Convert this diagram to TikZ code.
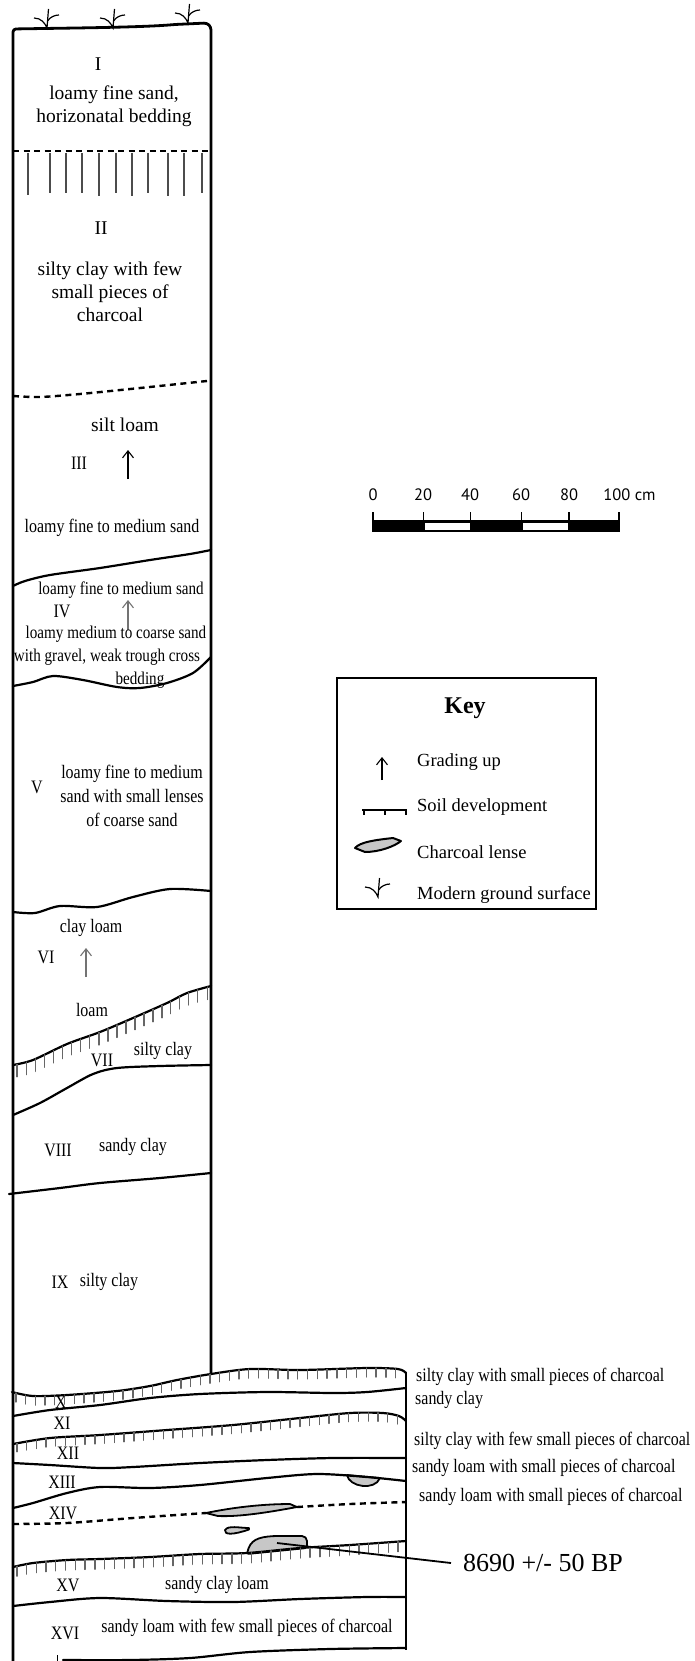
\documentclass[tikz,border=0pt]{standalone}
\usepackage{fontspec}
\setmainfont{Liberation Serif}
\newfontfamily\narrowserif[FakeStretch=0.84]{Liberation Serif}
\newfontfamily\barsans{PT Sans}
\usetikzlibrary{arrows.meta,decorations.markings}

\tikzstyle{column}=[line width=2.8pt, line join=round]
\tikzstyle{bound}=[line width=2.2pt, line cap=round]
\tikzstyle{dashbound}=[line width=2.4pt, dash pattern=on 6pt off 4.5pt]
\tikzstyle{hair}=[line width=1.35pt, black!60]
\tikzstyle{lens}=[line width=1.8pt, fill=black!22, line join=round]
\tikzstyle{grade}=[line width=1.1pt, -{Straight Barb[length=7pt,width=11pt]}]
\tikzstyle{lbl}=[font=\narrowserif\fontsize{19}{24}\selectfont, inner sep=0pt, align=center]
\tikzstyle{lblwide}=[font=\fontsize{19.5}{23}\selectfont, inner sep=0pt, align=center]
\tikzstyle{lblsmall}=[font=\narrowserif\fontsize{18}{22}\selectfont, inner sep=0pt]
\tikzstyle{side}=[lbl, anchor=west]
\tikzstyle{keytxt}=[font=\fontsize{18.5}{22}\selectfont, anchor=west, inner sep=0pt]
\tikzstyle{bartxt}=[font=\barsans\fontsize{16.5}{20}\selectfont, inner sep=0pt]
\tikzset{
  soil/.style={bound, postaction={decorate, decoration={markings,
    mark=between positions 4pt and -3pt step 9.8pt with {\pgftransformresetnontranslations
      \draw[hair] (0,0) -- (0,-#1pt);}}}},
  tuft/.pic={
    \draw[line width=1.2pt] (-13,-10) .. controls (-6,-10) and (-2,-5) .. (0,0) -- (1.5,-19);
    \draw[line width=1.2pt] (0.6,-7) .. controls (3,-11) and (8,-13) .. (12,-13);}
}

\begin{document}
\begin{tikzpicture}[x=1pt,y=-1pt]
\useasboundingbox (0,0) rectangle (695,1661);

\draw[column, rounded corners=3pt] (13,1661) -- (13,29) .. controls (70,28) and (140,27.5) .. (175,24.5) -- (207,23) -- (211,27) -- (211,1374);
\draw[column] (406,1372) -- (406,1650);
\pic at (47,28) {tuft};
\pic at (113,28) {tuft};
\pic at (188,23) {tuft};

\draw[dashbound] (13,151) -- (211,151);
\foreach \x/\e in {28/195,50/193,66/193,82/193,99/196,116/193,132/196,148/193,168/196,184/196,202/193}
  \draw[hair, black!70] (\x,153) -- (\x,\e);
\draw[dashbound] plot[smooth] coordinates {(13,396) (40,397) (80,394) (140,388) (207,381)};
\draw[bound] plot[smooth] coordinates {(13,586) (25,581) (50,575) (100,568) (150,560) (190,554) (211,550)};
\draw[bound] plot[smooth] coordinates {(13,686) (33,682) (53,676) (83,680) (117,687) (140,688) (167,683) (193,673) (211,657)};
\draw[bound] plot[smooth] coordinates {(13,912) (35,913) (60,906) (97,907) (133,897) (170,889) (211,891)};
\draw[soil=12.5] plot[smooth] coordinates {(13,1065) (33,1060) (67,1044) (100,1032) (133,1018) (167,1003) (187,993) (211,986)};
\draw[bound] plot[smooth] coordinates {(13,1115) (40,1103) (67,1088) (93,1074) (117,1068) (160,1066) (211,1065)};
\draw[bound] plot[smooth] coordinates {(9,1194) (60,1188) (100,1183) (160,1178) (211,1173)};

\draw[soil=9] plot[smooth] coordinates {(12,1392) (33,1396) (67,1395) (117,1391) (150,1386) (177,1380) (211,1374) (250,1369) (300,1370) (367,1368) (398,1369) (406,1373)};
\draw[bound] plot[smooth] coordinates {(13,1416) (50,1410) (100,1405) (150,1398) (200,1394) (267,1392) (333,1393) (367,1392) (406,1388)};
\draw[soil=8.5] plot[smooth] coordinates {(13,1444) (50,1438) (100,1435) (167,1430) (233,1425) (300,1418) (350,1413) (383,1413) (399,1416) (406,1421)};
\draw[bound] plot[smooth] coordinates {(13,1463) (50,1465) (100,1468) (133,1467) (200,1463) (267,1460) (333,1458) (406,1458)};
\draw[lens] (347,1475) .. controls (349,1487) and (375,1491) .. (380,1478) -- cycle;
\draw[bound] plot[smooth] coordinates {(13,1508) (33,1503) (67,1493) (100,1487) (150,1488) (200,1485) (267,1478) (317,1474) (367,1477) (406,1481)};
\draw[dashbound] plot[smooth] coordinates {(13,1524) (67,1523) (133,1518) (206,1513)};
\draw[dashbound] plot[smooth] coordinates {(297,1507) (350,1504) (406,1502)};
\draw[lens] (206,1513) .. controls (230,1508) and (260,1504) .. (290,1504) -- (297,1507) .. controls (270,1512) and (240,1517) .. (218,1516) -- cycle;
\draw[lens] (249,1528) .. controls (240,1528) and (228,1525) .. (225,1530) .. controls (224,1535) and (233,1535) .. (249,1529.5) -- cycle;
\draw[lens, rounded corners=2pt] (247,1554) .. controls (250,1540) and (258,1537) .. (275,1536) -- (304,1536) -- (307,1539) -- (307,1548) -- cycle;
\draw[soil=10] plot[smooth] coordinates {(13,1567) (33,1563) (67,1560) (100,1559) (150,1557) (200,1554) (247,1553) (300,1548) (350,1545) (406,1541)};
\draw[bound] plot[smooth] coordinates {(13,1606) (50,1602) (100,1598) (167,1601) (233,1602) (300,1599) (367,1597) (406,1597)};
\draw[bound] plot[smooth] coordinates {(406,1648) (330,1649) (250,1652) (190,1658) (130,1660) (63,1660)};
\draw[line width=0.8pt] (57,1655) -- (57,1661);

\node[lblwide] (nI) at (98,64) {I};
\node[lblwide] (tI) at (114,106) {loamy fine sand,\\horizonatal bedding};
\node[lblwide] (nII) at (101,228) {II};
\node[lblwide] (tII) at (110,292) {silty clay with few\\small pieces of\\charcoal};
\node[lblwide] (tIIIa) at (125,425) {silt loam};
\node[lbl] (nIII) at (79,463) {III};
\draw[grade] (128,479) -- (128,450);
\node[lbl] (tIIIb) at (112,528) {loamy fine to medium sand};
\node[lblsmall] (tIVa) at (121,590) {loamy fine to medium sand};
\node[lbl] (nIV) at (62,611) {IV};
\draw[grade, black!55] (128,630) -- (128,600);
\node[lblsmall] (tIVb) at (116,634) {loamy medium to coarse sand};
\node[lblsmall] (tIVc) at (107,657) {with gravel, weak trough cross};
\node[lblsmall] (tIVd) at (140,680) {bedding};
\node[lbl] (nV) at (37,787) {V};
\node[lbl] (tV) at (132,796) {loamy fine to medium\\sand with small lenses\\of coarse sand};
\node[lbl] (tVIa) at (91,928) {clay loam};
\node[lbl] (nVI) at (46,957) {VI};
\draw[grade, black!55] (86,977) -- (86,948);
\node[lbl] (tVIb) at (92,1010) {loam};
\node[lbl] (nVII) at (102,1060) {VII};
\node[lbl] (tVII) at (163,1051) {silty clay};
\node[lbl] (nVIII) at (58,1150) {VIII};
\node[lbl] (tVIII) at (133,1147) {sandy clay};
\node[lbl] (nIX) at (60,1282) {IX};
\node[lbl] (tIX) at (109,1282) {silty clay};
\node[lbl] (nX) at (61,1402) {X};
\node[lbl] (nXI) at (62,1423) {XI};
\node[lbl] (nXII) at (68,1453) {XII};
\node[lbl] (nXIII) at (62,1482) {XIII};
\node[lbl] (nXIV) at (63,1513) {XIV};
\node[lbl] (nXV) at (68,1585) {XV};
\node[lbl] (tXV) at (217,1585) {sandy clay loam};
\node[lbl] (nXVI) at (65,1633) {XVI};
\node[lbl] (tXVI) at (247,1628) {sandy loam with few small pieces of charcoal};

\node[side] (sX) at (416,1377) {silty clay with small pieces of charcoal};
\node[side] (sXI) at (415,1400) {sandy clay};
\node[side] (sXII) at (414,1441) {silty clay with few small pieces of charcoal};
\node[side] (sXIII) at (412,1468) {sandy loam with small pieces of charcoal};
\node[side] (sXIV) at (419,1497) {sandy loam with small pieces of charcoal};

\coordinate (sample) at (277,1543);
\node[font=\fontsize{26}{30}\selectfont, anchor=west, inner sep=0pt, outer xsep=12pt] (date) at (451,1563) {8690 +/- 50 BP};
\draw[line width=1.8pt] (sample) -- (date.west);

\foreach \x/\t [count=\i] in {373/0,423/20,470/40,521/60,569/80}
  \node[bartxt] (bar\i) at (\x,495) {\t};
\node[bartxt] (bar6) at (629.5,495) {100 cm};
\fill (372,520) rectangle (620,532);
\fill[white] (424.5,522.5) rectangle (469.5,529.8);
\fill[white] (522.5,522.5) rectangle (568,529.8);
\foreach \x in {373,423.5,470.5,521.5,569,619}
  \draw[line width=1.8pt] (\x,512) -- (\x,521);

\node[draw, line width=1.2pt, minimum width=259pt, minimum height=231pt, inner sep=0pt] (key) at (466.5,793.5) {};
\node[font=\bfseries\fontsize{24}{28}\selectfont, inner sep=0pt] (keytitle) at (465,708) {Key};
\draw[grade] (382,780) -- (382,757);
\node[keytxt] (kgrade) at (417,762) {Grading up};
\draw[line width=2.2pt] (362,810) -- (407,810);
\foreach \x in {363.5,385,406}
  \draw[line width=2pt] (\x,810) -- (\x,815);
\node[keytxt] (ksoil) at (417,807) {Soil development};
\draw[lens, line width=2pt] (355,848) .. controls (360,842) and (375,840) .. (393,838) -- (401,841) .. controls (395,846) and (380,852) .. (365,852) -- cycle;
\node[keytxt] (klens) at (417,852) {Charcoal lense};
\pic at (378,897) {tuft};
\node[keytxt] (kground) at (417,895) {Modern ground surface};
\end{tikzpicture}
\end{document}
